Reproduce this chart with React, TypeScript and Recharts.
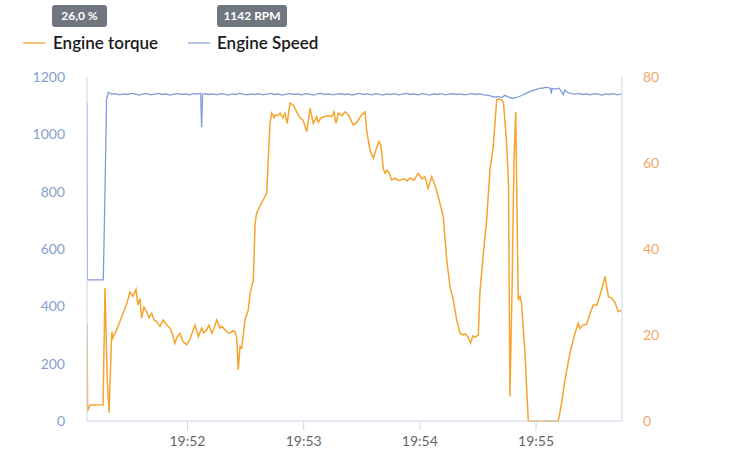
import React from "react";
import { LineChart, Line, XAxis, YAxis } from "recharts";

// time in seconds after 19:51:00
const xTickValues = [60, 120, 180, 240];
const xTickLabels = ["19:52", "19:53", "19:54", "19:55"];
const leftTicks = [0, 200, 400, 600, 800, 1000, 1200];
const rightTicks = [0, 20, 40, 60, 80];

const torqueBadge = "26,0 %";
const speedBadge = "1142 RPM";
const seriesNames = ["Engine torque", "Engine Speed"];

// Engine torque [%] : [seconds after 19:51:00, value]
const torquePoints: [number, number][] = [
  [8.1, 22.7], [8.4, 3], [8.6, 2.6], [9.7, 3.7], [16.4, 3.8], [17.4, 31], [18.5, 10], [19.5, 1.9],
  [20.9, 20.8], [21.5, 19.3], [24.1, 22], [26.7, 25], [28.8, 27.5], [30.3, 30], [31.9, 29], [33.4, 30.6],
  [34.4, 27], [35.5, 28.5], [36.3, 23.9], [37.5, 26.5], [38.9, 25.4], [40.1, 24], [41.5, 25.1], [42.7, 23.5],
  [44.1, 23.1], [45.8, 22], [47.5, 23.5], [48.9, 22.5], [51.0, 21.6], [52.0, 20.5], [53.5, 18.1], [54.6, 19.5],
  [56.1, 20.4], [57.7, 18.5], [59.6, 17.7], [61.3, 19], [62.8, 21], [63.9, 22.3], [65.6, 19.6], [67.3, 21.6],
  [68.5, 20.5], [69.9, 21.2], [71.1, 22.3], [72.5, 20.4], [73.7, 21.5], [75.1, 23.5], [76.8, 21.6], [77.8, 22],
  [79.4, 21.2], [80.9, 20.5], [81.9, 20.4], [83.5, 21], [84.5, 20.8], [85.4, 19.5], [86.2, 11.9], [87.1, 17.3],
  [88.0, 17], [89.7, 23.5], [91.4, 25.8], [92.3, 29.7], [94.0, 32.8], [94.9, 46], [95.7, 48.3], [97.4, 50],
  [99.1, 51.4], [100.9, 53], [102.6, 69.2], [103.5, 71.6], [104.7, 70.5], [105.2, 71.2], [106.7, 71], [107.8, 71.6],
  [109.3, 70.5], [110.3, 71.6], [111.5, 69.2], [112.9, 73.9], [114.6, 73.5], [116.4, 71.9], [118.1, 70.5], [119.6, 70],
  [121.6, 67.3], [123.3, 72.7], [125.0, 69.2], [126.7, 70.8], [127.6, 69.5], [128.9, 70.5], [131.0, 70.8], [132.6, 71],
  [134.5, 70.8], [135.7, 71.9], [136.7, 69.2], [137.9, 71.6], [139.8, 71], [141.3, 71.9], [142.9, 71.2], [143.9, 70.5],
  [145.6, 68.8], [147.5, 69.5], [150.0, 71.2], [151.7, 71.9], [152.5, 67.7], [154.2, 63], [156.0, 61.1], [157.3, 63],
  [158.9, 65], [159.9, 64], [161.1, 58.8], [162.0, 57.6], [163.0, 58.3], [164.1, 57.8], [165.4, 56], [167.2, 56.5],
  [168.7, 56], [169.7, 56], [171.8, 56.3], [173.3, 55.8], [174.9, 56.5], [176.9, 56], [179.2, 57.6], [181.1, 56.3],
  [182.6, 56.8], [184.3, 54.1], [186.1, 56.8], [187.3, 55.5], [189.5, 52.2], [192.1, 47.5], [193.9, 37.4], [195.6, 31.2],
  [197.3, 28.1], [199.0, 23.5], [200.7, 20.4], [202.3, 20], [203.3, 20.3], [204.9, 19.5], [206.2, 18.1], [207.4, 19.8],
  [208.5, 19.5], [210.2, 20], [211.0, 29.7], [212.8, 39], [214.5, 46.7], [216.2, 58.4], [217.9, 63.8], [219.7, 74.7],
  [220.6, 74.9], [222.3, 74.7], [223.2, 74], [224.8, 64.6], [225.8, 55], [226.5, 5.7], [227.6, 30], [228.6, 60],
  [229.5, 71.9], [230.8, 28.1], [231.7, 29], [232.5, 27.5], [234.3, 15.7], [236.0, 0], [251.5, 0], [253.2, 4.1],
  [254.9, 9.5], [257.5, 15.7], [260.1, 20.4], [261.8, 22.7], [262.7, 21.5], [264.2, 22.3], [266.1, 22.5], [267.9, 25],
  [269.6, 27], [271.5, 27], [272.5, 28.5], [273.9, 30.5], [275.6, 33.6], [277.4, 28.9], [279.1, 28.6], [280.8, 27.5],
  [282.5, 25.4], [284.3, 25.8],
];

// Engine Speed [RPM] : [seconds after 19:51:00, value]
const speedPoints: [number, number][] = [
  [8.1, 1110], [8.25, 492], [16.5, 492], [17.4, 800], [18.2, 1120], [19.1, 1146], [21, 1140], [23, 1142],
  [25, 1138], [27, 1141], [29, 1139], [31, 1143], [33, 1140], [35, 1137], [37, 1141], [39, 1142],
  [41, 1138], [43, 1140], [45, 1143], [47, 1139], [49, 1141], [51, 1137], [53, 1140], [55, 1142],
  [57, 1139], [59, 1141], [61, 1138], [63, 1142], [65, 1140], [66.8, 1143], [67.3, 1025], [67.8, 1140],
  [69, 1142], [71, 1139], [73, 1141], [75, 1138], [77, 1142], [79, 1140], [81, 1137], [83, 1141],
  [85, 1139], [87, 1143], [89, 1140], [91, 1138], [93, 1141], [95, 1139], [97, 1142], [99, 1138],
  [101, 1140], [103, 1143], [105, 1139], [107, 1141], [109, 1137], [111, 1140], [113, 1142], [115, 1139],
  [117, 1141], [119, 1138], [121, 1142], [123, 1140], [125, 1137], [127, 1141], [129, 1143], [131, 1139],
  [133, 1141], [135, 1138], [137, 1140], [139, 1142], [141, 1139], [143, 1141], [145, 1137], [147, 1140],
  [149, 1143], [151, 1139], [153, 1141], [155, 1138], [157, 1142], [159, 1140], [161, 1137], [163, 1141],
  [165, 1139], [167, 1142], [169, 1138], [171, 1140], [173, 1143], [175, 1139], [177, 1141], [179, 1138],
  [181, 1142], [183, 1140], [185, 1137], [187, 1141], [189, 1139], [191, 1142], [193, 1138], [195, 1140],
  [197, 1142], [199, 1139], [201, 1141], [203, 1138], [205, 1140], [207, 1142], [209, 1139], [211, 1141],
  [213, 1138], [214.6, 1137], [216.5, 1134], [218.3, 1130], [220.2, 1132], [222.1, 1128], [224.0, 1136], [225.8, 1130],
  [227.7, 1126], [229.6, 1128], [231.4, 1132], [233.3, 1138], [235.2, 1144], [237.0, 1150], [238.9, 1154], [240.7, 1158],
  [242.6, 1162], [243.5, 1160], [244.4, 1164], [246.3, 1163], [247.5, 1160], [247.9, 1142], [248.3, 1160], [250.0, 1158],
  [251.9, 1161], [253.2, 1148], [254.1, 1139], [254.9, 1154], [256.5, 1145], [258.4, 1142], [260.2, 1140], [262, 1143],
  [264, 1139], [266, 1141], [268, 1138], [270, 1142], [272, 1140], [274, 1137], [276, 1141], [278, 1139],
  [280, 1142], [282, 1138], [284.3, 1141],
];

const torqueData = torquePoints.map(([t, v]) => ({ t, v }));
const speedData = speedPoints.map(([t, v]) => ({ t, v }));

const TORQUE = "#f5a42e";
const SPEED = "#7f9bd8";
const AXIS = "#ccd6eb";
const FONT = "Lato, 'Open Sans', sans-serif";

const badgeStyle: React.CSSProperties = {
  position: "absolute",
  top: 5,
  height: 22,
  lineHeight: "22px",
  background: "#6f767f",
  color: "#fff",
  fontFamily: FONT,
  fontWeight: 700,
  fontSize: 12,
  borderRadius: 3,
  padding: "0 6px",
  boxSizing: "border-box",
  textAlign: "center",
};

const legendText: React.CSSProperties = {
  position: "absolute",
  top: 33,
  fontFamily: FONT,
  fontSize: 17,
  fontWeight: 600,
  color: "#1a1a1a",
  lineHeight: "20px",
  whiteSpace: "nowrap",
};

export default function App() {
  return (
    <div style={{ position: "absolute", left: 0, top: 0, width: 730, height: 455, background: "#fff" }}>
      <div style={{ ...badgeStyle, left: 52, width: 55 }}>{torqueBadge}</div>
      <div style={{ ...badgeStyle, left: 217, width: 70 }}>{speedBadge}</div>
      <div style={{ position: "absolute", left: 23, top: 42, width: 22, height: 2, background: "#f7c27c" }} />
      <div style={{ ...legendText, left: 53 }}>{seriesNames[0]}</div>
      <div style={{ position: "absolute", left: 188, top: 42, width: 22, height: 2, background: "#b7c5e4" }} />
      <div style={{ ...legendText, left: 217 }}>{seriesNames[1]}</div>
      <div style={{ position: "absolute", left: 0, top: 0 }}>
        <LineChart width={730} height={455} margin={{ top: 77, right: 0, bottom: 0, left: 0 }}>
          <XAxis
            type="number"
            dataKey="t"
            domain={[8.1, 284.4]}
            allowDataOverflow
            ticks={xTickValues}
            tickFormatter={(v: number) => xTickLabels[xTickValues.indexOf(v)] ?? ""}
            height={34}
            stroke={AXIS}
            tickSize={9}
            tickMargin={6}
            tick={{ fill: "#666", fontSize: 14, fontFamily: FONT }}
            tickLine={{ stroke: AXIS }}
          />
          <YAxis
            yAxisId="left"
            orientation="left"
            domain={[0, 1200]}
            ticks={leftTicks}
            width={87}
            stroke={AXIS}
            tickLine={false}
            tickSize={0}
            tickMargin={22}
            tick={{ fill: "#86a0cc", fontSize: 14, fontFamily: FONT }}
          />
          <YAxis
            yAxisId="right"
            orientation="right"
            domain={[0, 80]}
            ticks={rightTicks}
            width={108}
            stroke={AXIS}
            tickLine={false}
            tickSize={0}
            tickMargin={21}
            tick={{ fill: "#f2a868", fontSize: 14, fontFamily: FONT }}
          />
          <Line
            data={speedData}
            dataKey="v"
            yAxisId="left"
            type="linear"
            stroke={SPEED}
            strokeWidth={1.3}
            dot={false}
            isAnimationActive={false}
          />
          <Line
            data={torqueData}
            dataKey="v"
            yAxisId="right"
            type="linear"
            stroke={TORQUE}
            strokeWidth={1.5}
            dot={false}
            isAnimationActive={false}
          />
        </LineChart>
      </div>
    </div>
  );
}
